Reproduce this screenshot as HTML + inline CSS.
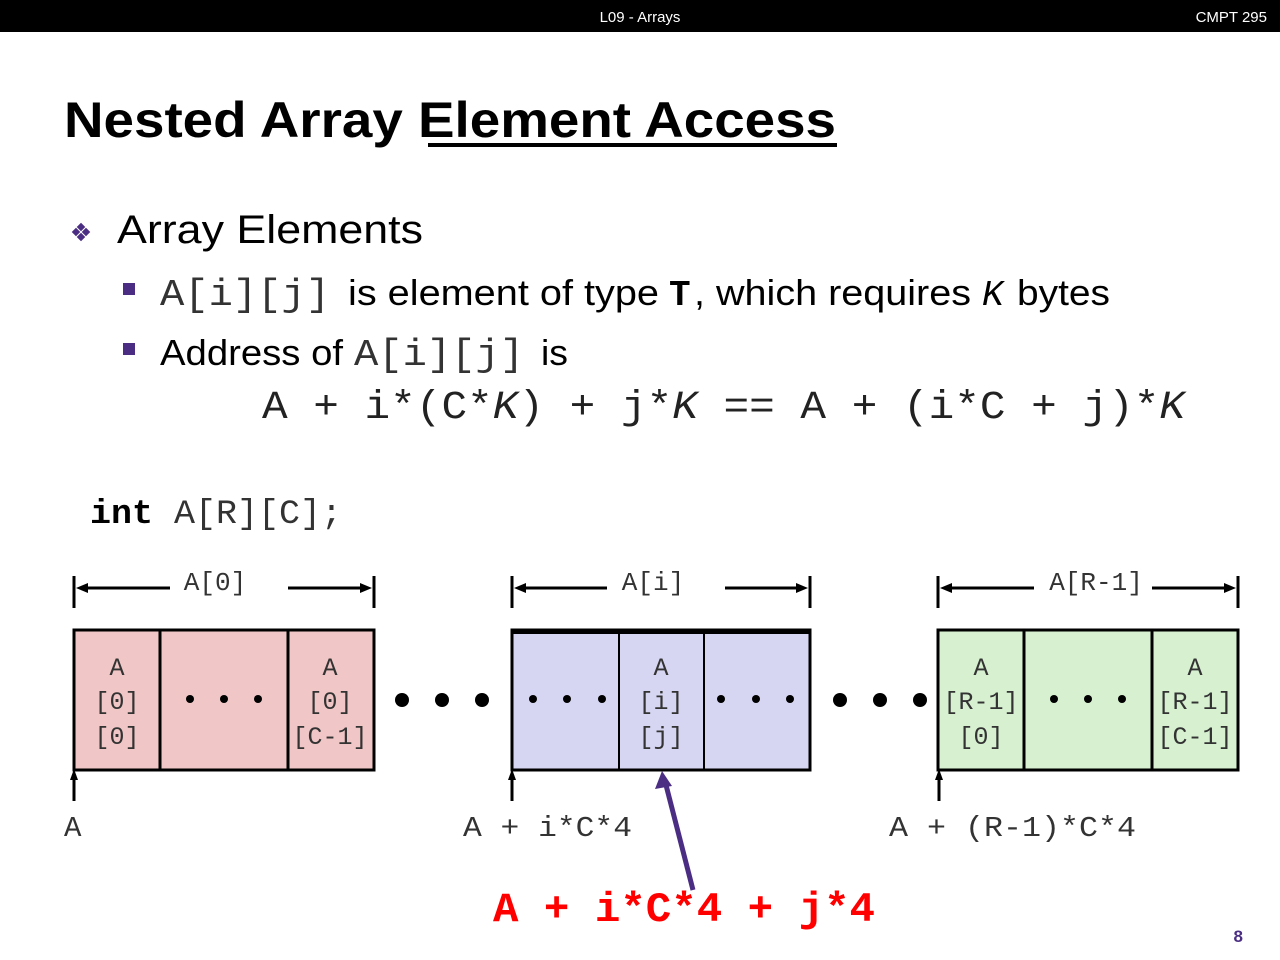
<!DOCTYPE html>
<html><head><meta charset="utf-8"><style>
html,body{margin:0;padding:0;background:#fff;}
svg{display:block;}
.m{font-family:"Liberation Mono",monospace;}
.s{font-family:"Liberation Sans",sans-serif;}
</style></head><body>
<svg width="1280" height="960" viewBox="0 0 1280 960" xmlns="http://www.w3.org/2000/svg">
<rect x="0" y="0" width="1280" height="32" fill="#000"/>
<text x="640" y="22" class="s" font-size="15" fill="#fff" text-anchor="middle">L09 - Arrays</text>
<text x="1267" y="22" class="s" font-size="15" fill="#fff" text-anchor="end">CMPT 295</text>

<text x="64" y="137" class="s" font-size="50" font-weight="bold" fill="#000" textLength="772" lengthAdjust="spacingAndGlyphs">Nested Array Element Access</text>
<rect x="428" y="143" width="409" height="4" fill="#000"/>

<g fill="#4b2e83">
<rect x="78" y="224" width="6" height="6" transform="rotate(45 81 227)"/>
<rect x="78" y="234" width="6" height="6" transform="rotate(45 81 237)"/>
<rect x="73" y="229" width="6" height="6" transform="rotate(45 76 232)"/>
<rect x="83" y="229" width="6" height="6" transform="rotate(45 86 232)"/>
<rect x="123" y="283" width="12" height="12"/>
<rect x="123" y="343" width="12" height="12"/>
</g>
<text x="117" y="243" class="s" font-size="40" fill="#000" textLength="306" lengthAdjust="spacingAndGlyphs">Array Elements</text>

<g font-size="36" fill="#000">
<text x="160" y="305" class="m" font-size="38" fill="#333" textLength="170" lengthAdjust="spacingAndGlyphs">A[i][j]</text>
<text x="348" y="305" class="s" textLength="311" lengthAdjust="spacingAndGlyphs">is element of type</text>
<text x="669" y="305" class="m" font-weight="bold">T</text>
<text x="694" y="305" class="s" textLength="277" lengthAdjust="spacingAndGlyphs">, which requires</text>
<text x="982" y="305" class="m" font-style="italic">K</text>
<text x="1017" y="305" class="s" textLength="93" lengthAdjust="spacingAndGlyphs">bytes</text>
<text x="160" y="365" class="s" textLength="183" lengthAdjust="spacingAndGlyphs">Address of</text>
<text x="354" y="365" class="m" font-size="38" fill="#333" textLength="170" lengthAdjust="spacingAndGlyphs">A[i][j]</text>
<text x="541" y="365" class="s" textLength="27" lengthAdjust="spacingAndGlyphs">is</text>
</g>
<text x="262" y="418" class="m" font-size="40" fill="#222" textLength="923" lengthAdjust="spacingAndGlyphs">A + i*(C*<tspan font-style="italic">K</tspan>) + j*<tspan font-style="italic">K</tspan> == A + (i*C + j)*<tspan font-style="italic">K</tspan></text>

<text x="90" y="523" class="m" font-size="34" fill="#000" textLength="252" lengthAdjust="spacingAndGlyphs"><tspan font-weight="bold">int</tspan><tspan fill="#333"> A[R][C];</tspan></text>

<g stroke="#000" stroke-width="3" fill="none">
<line x1="74" y1="576" x2="74" y2="608"/><line x1="374" y1="576" x2="374" y2="608"/>
<line x1="80" y1="588" x2="170" y2="588"/><line x1="288" y1="588" x2="368" y2="588"/>
<line x1="512" y1="576" x2="512" y2="608"/><line x1="810" y1="576" x2="810" y2="608"/>
<line x1="518" y1="588" x2="607" y2="588"/><line x1="725" y1="588" x2="804" y2="588"/>
<line x1="938" y1="576" x2="938" y2="608"/><line x1="1238" y1="576" x2="1238" y2="608"/>
<line x1="944" y1="588" x2="1034" y2="588"/><line x1="1152" y1="588" x2="1232" y2="588"/>
</g>
<g fill="#000">
<polygon points="76,588 88,583 88,593"/><polygon points="372,588 360,583 360,593"/>
<polygon points="514,588 526,583 526,593"/><polygon points="808,588 796,583 796,593"/>
<polygon points="940,588 952,583 952,593"/><polygon points="1236,588 1224,583 1224,593"/>
</g>
<g class="m" font-size="26" fill="#333" text-anchor="middle">
<text x="215" y="590">A[0]</text>
<text x="653" y="590">A[i]</text>
<text x="1096" y="590">A[R-1]</text>
</g>

<g stroke="#000" stroke-width="3">
<rect x="74" y="630" width="300" height="140" fill="#f0c6c6"/>
<line x1="160" y1="630" x2="160" y2="770"/><line x1="288" y1="630" x2="288" y2="770"/>
<rect x="512" y="630" width="298" height="140" fill="#d6d6f2"/>
<line x1="619" y1="630" x2="619" y2="770" stroke-width="2"/><line x1="704" y1="630" x2="704" y2="770" stroke-width="2"/>
<rect x="938" y="630" width="300" height="140" fill="#d6f0d0"/>
<line x1="1024" y1="630" x2="1024" y2="770"/><line x1="1152" y1="630" x2="1152" y2="770"/>
</g>
<rect x="513" y="631" width="296" height="3" fill="#000"/>
<g fill="#000">
<circle cx="190" cy="699" r="4"/><circle cx="224" cy="699" r="4"/><circle cx="258" cy="699" r="4"/>
<circle cx="533" cy="699" r="4"/><circle cx="567" cy="699" r="4"/><circle cx="602" cy="699" r="4"/>
<circle cx="721" cy="699" r="4"/><circle cx="756" cy="699" r="4"/><circle cx="790" cy="699" r="4"/>
<circle cx="1054" cy="699" r="4"/><circle cx="1088" cy="699" r="4"/><circle cx="1122" cy="699" r="4"/>
<circle cx="402" cy="700" r="7"/><circle cx="442" cy="700" r="7"/><circle cx="482" cy="700" r="7"/>
<circle cx="840" cy="700" r="7"/><circle cx="880" cy="700" r="7"/><circle cx="920" cy="700" r="7"/>
</g>
<g class="m" font-size="25" fill="#333" text-anchor="middle">
<text x="117" y="675">A</text><text x="117" y="709">[0]</text><text x="117" y="744">[0]</text>
<text x="330" y="675">A</text><text x="330" y="709">[0]</text><text x="330" y="744">[C-1]</text>
<text x="661" y="675">A</text><text x="661" y="709">[i]</text><text x="661" y="744">[j]</text>
<text x="981" y="675">A</text><text x="981" y="709">[R-1]</text><text x="981" y="744">[0]</text>
<text x="1195" y="675">A</text><text x="1195" y="709">[R-1]</text><text x="1195" y="744">[C-1]</text>
</g>

<g stroke="#000" stroke-width="3">
<line x1="74" y1="778" x2="74" y2="801"/><line x1="512" y1="778" x2="512" y2="801"/><line x1="939" y1="778" x2="939" y2="801"/>
</g>
<g fill="#000">
<polygon points="74,769 70,780 78,780"/><polygon points="512,769 508,780 516,780"/><polygon points="939,769 935,780 943,780"/>
</g>
<g class="m" font-size="29" fill="#333">
<text x="64" y="836">A</text>
<text x="463" y="836" textLength="169" lengthAdjust="spacingAndGlyphs">A + i*C*4</text>
<text x="889" y="836" textLength="247" lengthAdjust="spacingAndGlyphs">A + (R-1)*C*4</text>
</g>

<line x1="693" y1="890" x2="666" y2="785" stroke="#4b2e83" stroke-width="5"/>
<polygon points="662,771 655,789 672,786" fill="#4b2e83"/>

<text x="493" y="921" class="m" font-size="42" font-weight="bold" fill="#f00" textLength="382" lengthAdjust="spacingAndGlyphs">A + i*C*4 + j*4</text>
<text x="1243" y="942" class="s" font-size="17" font-weight="bold" fill="#4b2e83" text-anchor="end">8</text>
</svg>
</body></html>
